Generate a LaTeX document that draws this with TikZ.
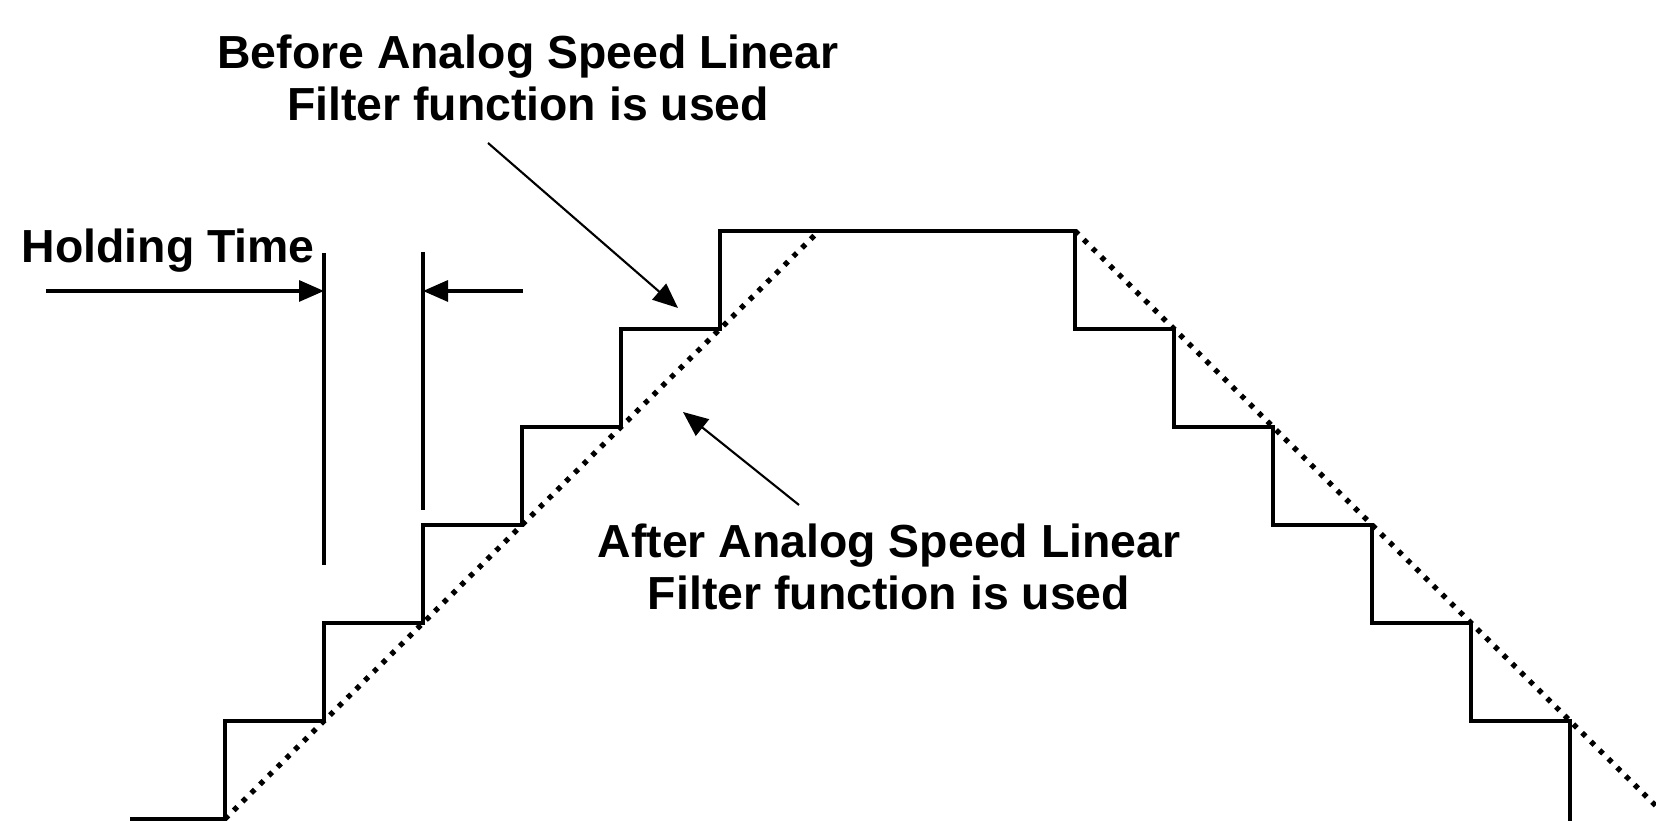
\documentclass[tikz,border=0pt]{standalone}
\usepackage{fontspec}
\setmainfont{Liberation Sans}
\usepackage{tikz}
\usetikzlibrary{arrows.meta}

\begin{document}
\begin{tikzpicture}[
    >={Triangle[length=2.5mm,width=2.1mm]},
    stair/.style={line width=0.9pt},
    ramp/.style={line width=1.5pt, dash pattern=on 1.4pt off 2.1pt},
    lbl/.style={inner sep=0pt, align=center, font=\bfseries\fontsize{13.2}{14.8}\selectfont},
    pointer/.style={->, line width=0.6pt}]
  \useasboundingbox (0,0) rectangle (16.56,8.21);
  % speed command steps
  \draw[stair] (1.30,0.02) -- (2.25,0.02) |- (3.24,1.00) |- (4.23,1.98) |- (5.22,2.96)
    |- (6.21,3.94) |- (7.20,4.92) |- (10.75,5.90) |- (11.74,4.92) |- (12.73,3.94)
    |- (13.72,2.96) |- (14.71,1.98) |- (15.70,1.00) -- (15.70,0);
  % filtered ramps
  \draw[ramp] (2.25,0.02) -- (8.19,5.90);
  \draw[ramp] (10.75,5.90) -- (16.56,0.15);
  % holding time
  \draw[stair] (3.24,5.68) -- (3.24,2.56);
  \draw[stair] (4.23,5.69) -- (4.23,3.11);
  \coordinate (hl) at (0.46,5.30);
  \coordinate (h1) at (3.24,5.30);
  \coordinate (h2) at (4.23,5.30);
  \coordinate (hr) at (5.23,5.30);
  \draw[->, stair] (hl) -- (h1);
  \draw[->, stair] (hr) -- (h2);
  \node[lbl, anchor=base west] (hold) at (0.21,5.58) {Holding Time};
  % labels
  \node[lbl, anchor=north] (before) at (5.28,7.87) {Before Analog Speed Linear\\Filter function is used};
  \node[lbl, anchor=north] (after) at (8.89,2.98) {After Analog Speed Linear\\Filter function is used};
  \coordinate (b0) at (4.88,6.78);
  \coordinate (b1) at (6.78,5.13);
  \coordinate (a0) at (7.99,3.16);
  \coordinate (a1) at (6.83,4.09);
  \draw[pointer] (b0) -- (b1);
  \draw[pointer] (a0) -- (a1);
\end{tikzpicture}
\end{document}
